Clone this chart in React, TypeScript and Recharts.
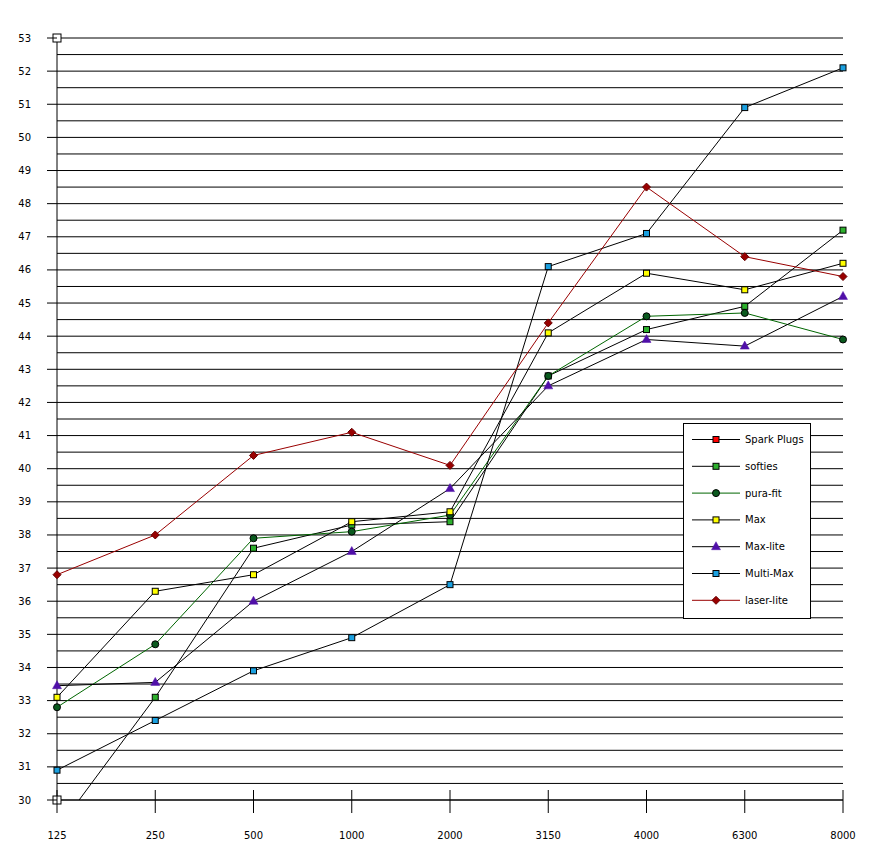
import React from "react";
import { LineChart, Line, XAxis, YAxis, CartesianGrid, ReferenceDot } from "recharts";

const categories = ["125", "250", "500", "1000", "2000", "3150", "4000", "6300", "8000"];

const sparkPlugs: (number | null)[] = [null, null, null, null, null, null, null, null, null];
const softies = [29.1, 33.1, 37.6, 38.3, 38.4, 42.8, 44.2, 44.9, 47.2];
const puraFit = [32.8, 34.7, 37.9, 38.1, 38.6, 42.8, 44.6, 44.7, 43.9];
const max = [33.1, 36.3, 36.8, 38.4, 38.7, 44.1, 45.9, 45.4, 46.2];
const maxLite = [33.45, 33.55, 36.0, 37.5, 39.4, 42.5, 43.9, 43.7, 45.2];
const multiMax = [30.9, 32.4, 33.9, 34.9, 36.5, 46.1, 47.1, 50.9, 52.1];
const laserLite = [36.8, 38.0, 40.4, 41.1, 40.1, 44.4, 48.5, 46.4, 45.8];

const yMin = 30;
const yMax = 53;
const yTicks: number[] = [];
for (let v = yMin; v <= yMax; v += 0.5) yTicks.push(v);
const axisEndMarkers = [53, 30];

const data = categories.map((c, i) => ({
  freq: c,
  sparkPlugs: sparkPlugs[i],
  softies: softies[i],
  puraFit: puraFit[i],
  max: max[i],
  maxLite: maxLite[i],
  multiMax: multiMax[i],
  laserLite: laserLite[i],
}));

type Shape = "square" | "circle" | "diamond" | "triangle";

const drawMarker = (shape: Shape, cx: number, cy: number, fill: string, stroke: string, key?: string) => {
  switch (shape) {
    case "square":
      return <rect key={key} x={cx - 3} y={cy - 3} width={6} height={6} fill={fill} stroke={stroke} strokeWidth={1} />;
    case "circle":
      return <circle key={key} cx={cx} cy={cy} r={3.5} fill={fill} stroke={stroke} strokeWidth={1} />;
    case "diamond":
      return (
        <polygon key={key} points={`${cx},${cy - 4} ${cx + 4},${cy} ${cx},${cy + 4} ${cx - 4},${cy}`} fill={fill} stroke={stroke} strokeWidth={1} />
      );
    case "triangle":
      return <polygon key={key} points={`${cx},${cy - 5} ${cx + 4.5},${cy + 3} ${cx - 4.5},${cy + 3}`} fill={fill} stroke={fill} strokeWidth={0.5} />;
  }
};

const makeDot = (shape: Shape, fill: string, stroke: string) => (props: any) => {
  const { cx, cy, value, index } = props;
  const k = `d-${shape}-${fill}-${index}`;
  if (value == null || cx == null || cy == null || value < yMin || value > yMax) return <g key={k} />;
  return drawMarker(shape, cx, cy, fill, stroke, k);
};

const seriesDefs = [
  { key: "sparkPlugs", name: "Spark Plugs", line: "#000000", fill: "#FF0000", stroke: "#000000", shape: "square" as Shape },
  { key: "softies", name: "softies", line: "#000000", fill: "#2DB02D", stroke: "#000000", shape: "square" as Shape },
  { key: "puraFit", name: "pura-fit", line: "#006600", fill: "#0A5A1E", stroke: "#000000", shape: "circle" as Shape },
  { key: "max", name: "Max", line: "#000000", fill: "#FFFF00", stroke: "#000000", shape: "square" as Shape },
  { key: "maxLite", name: "Max-lite", line: "#000000", fill: "#5010A8", stroke: "#5010A8", shape: "triangle" as Shape },
  { key: "multiMax", name: "Multi-Max", line: "#000000", fill: "#1AA0E0", stroke: "#000000", shape: "square" as Shape },
  { key: "laserLite", name: "laser-lite", line: "#990000", fill: "#990000", stroke: "#660000", shape: "diamond" as Shape },
];

const FONT = "'DejaVu Sans', sans-serif";

const YTick = (props: any) => {
  const { x, y, payload } = props;
  const v = payload.value;
  if (!Number.isInteger(v)) return <g />;
  return (
    <g>
      <line x1={x - 10} y1={y} x2={x} y2={y} stroke="#000" strokeWidth={1} />
      <text x={x - 26} y={y} dy="0.35em" textAnchor="end" fontFamily={FONT} fontSize={10} fill="#000">
        {v}
      </text>
    </g>
  );
};

const XTick = (props: any) => {
  const { x, y, payload } = props;
  return (
    <g>
      <line x1={x} y1={y - 10} x2={x} y2={y + 13} stroke="#000" strokeWidth={1} />
      <text x={x} y={y + 35} dy="0.35em" textAnchor="middle" fontFamily={FONT} fontSize={10} fill="#000">
        {payload.value}
      </text>
    </g>
  );
};

const LegendBox = () => (
  <div
    style={{
      position: "absolute",
      left: 675,
      top: 415,
      width: 126,
      height: 194,
      border: "1px solid #000",
      background: "#fff",
    }}
  >
    <svg width={126} height={194} style={{ display: "block" }}>
      {seriesDefs.map((s, i) => {
        const cy = 15.5 + i * 26.8;
        return (
          <g key={s.key}>
            <line x1={8} y1={cy} x2={56} y2={cy} stroke={s.line} strokeWidth={1} />
            {drawMarker(s.shape, 32, cy, s.fill, s.stroke)}
            <text x={61} y={cy} dy="0.35em" fontFamily={FONT} fontSize={10} fill="#000">
              {s.name}
            </text>
          </g>
        );
      })}
    </svg>
  </div>
);

const WhiteSquare = (props: any) => {
  const { cx, cy } = props;
  return <rect x={cx - 4} y={cy - 4} width={8} height={8} fill="#fff" stroke="#000" strokeWidth={1} />;
};

export default function App() {
  return (
    <div style={{ position: "relative", width: 865, height: 842, background: "#fff" }}>
      <LineChart width={865} height={842} data={data} margin={{ top: 30, right: 30, bottom: 0, left: 0 }}>
        <CartesianGrid vertical={false} stroke="#000" strokeWidth={1} />
        <XAxis
          dataKey="freq"
          height={50}
          tick={<XTick />}
          tickLine={false}
          tickSize={0}
          tickMargin={0}
          axisLine={{ stroke: "#000" }}
          interval={0}
        />
        <YAxis
          type="number"
          domain={[yMin, yMax]}
          ticks={yTicks}
          interval={0}
          allowDataOverflow
          width={49}
          tick={<YTick />}
          tickLine={false}
          tickSize={0}
          tickMargin={0}
          axisLine={{ stroke: "#000" }}
        />
        {seriesDefs.map((s) => (
          <Line
            key={s.key}
            dataKey={s.key}
            name={s.name}
            stroke={s.line}
            strokeWidth={1}
            dot={makeDot(s.shape, s.fill, s.stroke)}
            activeDot={false}
            isAnimationActive={false}
            connectNulls={false}
          />
        ))}
        {axisEndMarkers.map((v) => (
          <ReferenceDot key={`end-${v}`} x={categories[0]} y={v} shape={<WhiteSquare />} ifOverflow="visible" />
        ))}
      </LineChart>
      <LegendBox />
    </div>
  );
}
